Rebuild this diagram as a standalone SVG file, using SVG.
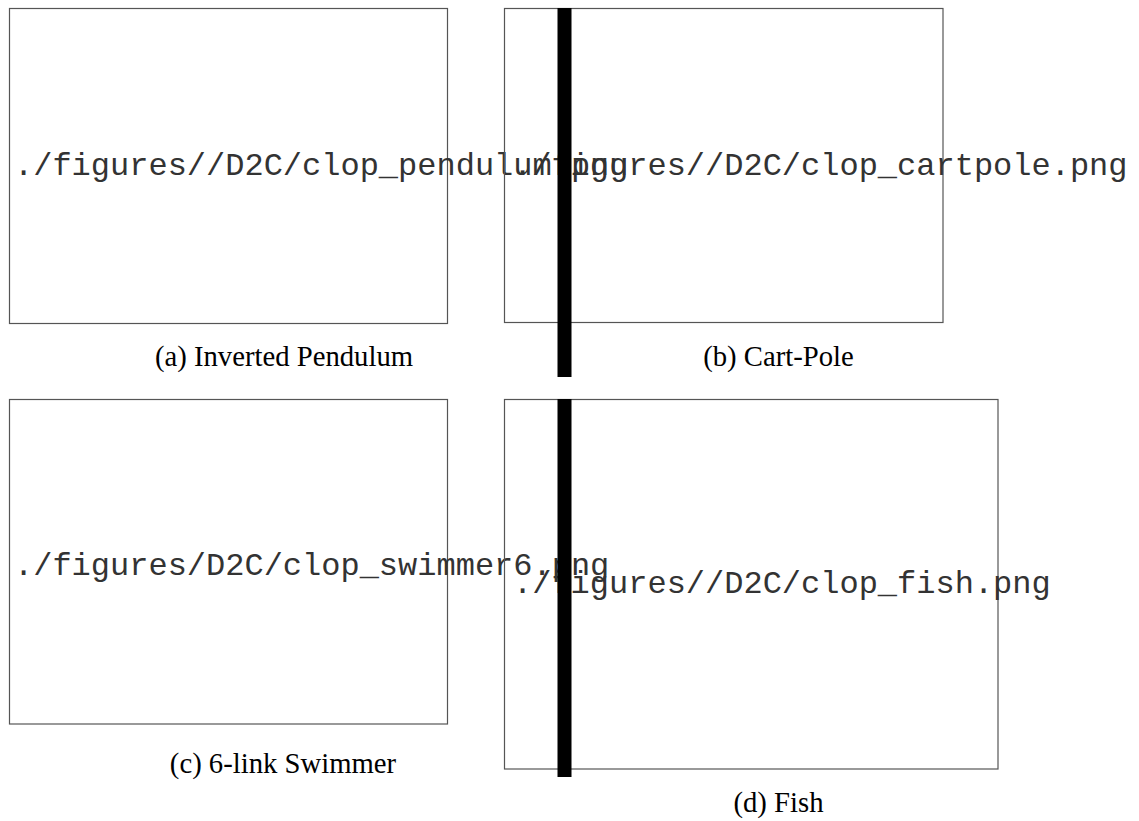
<svg xmlns="http://www.w3.org/2000/svg" width="1139" height="821" viewBox="0 0 1139 821">
  <style>
    .frame { fill: none; stroke: #555; stroke-width: 1.2; }
    .path { font-family: "Liberation Mono", "Courier New", monospace; font-size: 32px; fill: #333; }
    .cap { font-family: "Liberation Serif", "Times New Roman", serif; font-size: 28.7px; fill: #000; text-anchor: middle; }
    .bar { fill: #000; }
  </style>
  <rect width="1139" height="821" fill="#fff"/>

  <!-- (a) inverted pendulum placeholder -->
  <g id="sub-a">
    <rect class="frame" x="9.5" y="8.5" width="438" height="315"/>
    <text class="path" x="14" y="175">./figures//D2C/clop_pendulum.png</text>
    <text class="cap" x="284" y="365.5">(a) Inverted Pendulum</text>
  </g>

  <!-- (b) cart-pole placeholder -->
  <g id="sub-b">
    <rect class="frame" x="504.5" y="8.5" width="438.5" height="314"/>
    <text class="path" x="513" y="175">./figures//D2C/clop_cartpole.png</text>
    <text class="cap" x="778.5" y="365.5">(b) Cart-Pole</text>
  </g>

  <!-- (c) swimmer placeholder -->
  <g id="sub-c">
    <rect class="frame" x="9.5" y="399.5" width="438" height="324.5"/>
    <text class="path" x="14" y="575">./figures/D2C/clop_swimmer6.png</text>
    <text class="cap" x="283" y="773">(c) 6-link Swimmer</text>
  </g>

  <!-- (d) fish placeholder -->
  <g id="sub-d">
    <rect class="frame" x="504.5" y="399.5" width="493.5" height="369.5"/>
    <text class="path" x="513" y="593">./figures//D2C/clop_fish.png</text>
    <text class="cap" x="778.5" y="811.5">(d) Fish</text>
  </g>

  <!-- vertical rules over the right column -->
  <g id="rules">
    <rect class="bar" x="557.5" y="8" width="14" height="369"/>
    <rect class="bar" x="557.5" y="399" width="14" height="378"/>
  </g>
</svg>
